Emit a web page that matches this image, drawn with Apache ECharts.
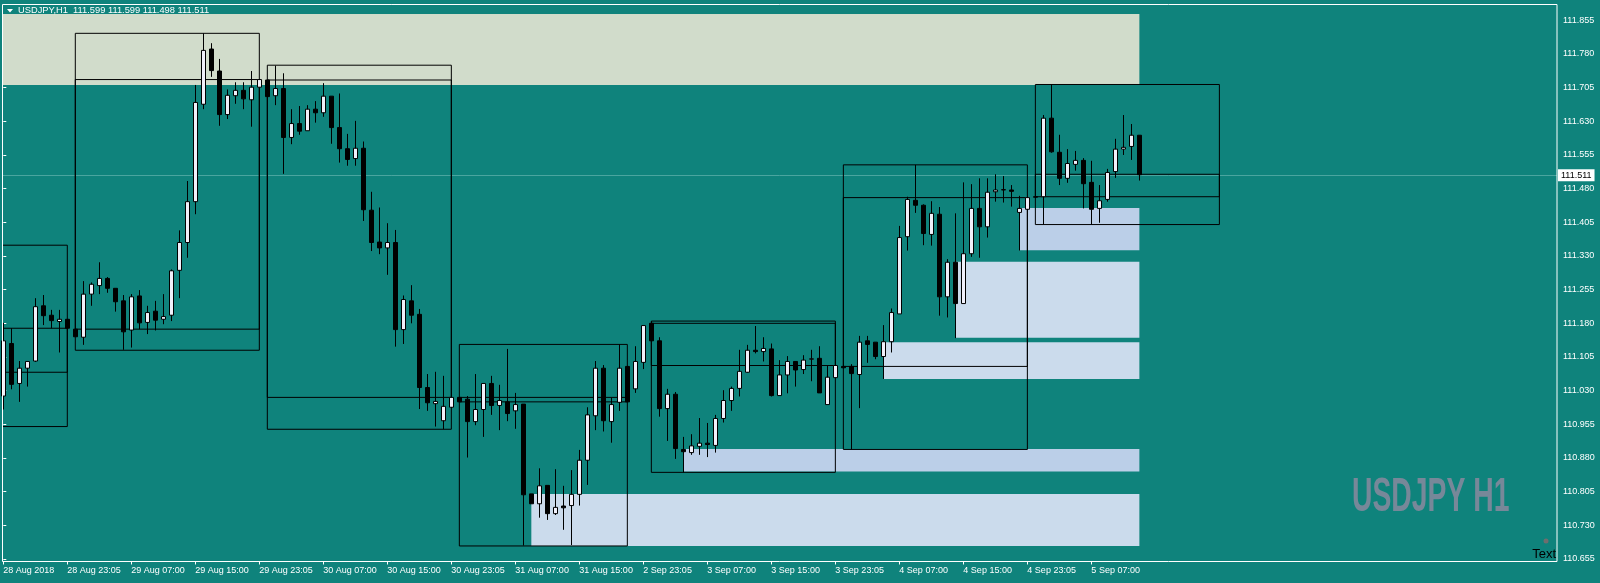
<!DOCTYPE html>
<html>
<head>
<meta charset="utf-8">
<title>USDJPY,H1</title>
<script src="https://cdn.jsdelivr.net/npm/echarts@6.0.0/dist/echarts.min.js"></script>
<style>
  html, body { margin: 0; padding: 0; background: #0f837c; }
  #main { width: 1600px; height: 583px; }
</style>
</head>
<body>
<div id="main"></div>
<script>
// time labels, one every 8 bars
var timeLabels = ['28 Aug 2018', '28 Aug 23:05', '29 Aug 07:00', '29 Aug 15:00', '29 Aug 23:05',
  '30 Aug 07:00', '30 Aug 15:00', '30 Aug 23:05', '31 Aug 07:00', '31 Aug 15:00', '2 Sep 23:05',
  '3 Sep 07:00', '3 Sep 15:00', '3 Sep 23:05', '4 Sep 07:00', '4 Sep 15:00', '4 Sep 23:05', '5 Sep 07:00']
var labelStep = 8

// price ticks on the right
var priceTicks = [110.655, 110.730, 110.805, 110.880, 110.955, 111.030, 111.105, 111.180, 111.255,
  111.330, 111.405, 111.480, 111.555, 111.630, 111.705, 111.780, 111.855]

// H1 bars (index = bar number)
var open = [
  111.018, 111.135, 111.046, 111.080, 111.096, 111.219, 111.198, 111.184, 111.189, 111.167,
  111.149, 111.245, 111.264, 111.280, 111.258, 111.230, 111.165, 111.241, 111.182, 111.207,
  111.189, 111.198, 111.298, 111.360, 111.451, 111.668, 111.791, 111.742, 111.645, 111.687,
  111.699, 111.678, 111.706, 111.722, 111.687, 111.703, 111.594, 111.625, 111.609, 111.657,
  111.649, 111.686, 111.616, 111.569, 111.547, 111.570, 111.432, 111.361, 111.348, 111.360,
  111.166, 111.230, 111.200, 111.037, 111.001, 110.963, 110.993, 111.015, 111.011, 110.961,
  110.988, 111.046, 110.997, 111.005, 110.985, 111.000, 110.800, 110.778, 110.819, 110.756,
  110.773, 110.774, 110.799, 110.875, 110.974, 111.080, 110.961, 111.004, 111.084, 111.034,
  111.093, 111.180, 111.141, 110.990, 111.022, 110.899, 110.892, 110.906, 110.913, 110.908,
  110.968, 111.008, 111.035, 111.071, 111.120, 111.117, 111.123, 111.019, 111.065, 111.095,
  111.077, 111.100, 111.102, 110.999, 111.059, 111.084, 111.084, 111.066, 111.141, 111.138,
  111.106, 111.139, 111.201, 111.373, 111.454, 111.443, 111.378, 111.423, 111.239, 111.316,
  111.224, 111.335, 111.436, 111.395, 111.473, 111.477, 111.477, 111.427, 111.434, 111.462,
  111.462, 111.637, 111.561, 111.503, 111.534, 111.543, 111.494, 111.436, 111.456, 111.518,
  111.568, 111.574, 111.599
]
var high = [
  111.181, 111.169, 111.096, 111.096, 111.236, 111.243, 111.210, 111.210, 111.189, 111.167,
  111.274, 111.271, 111.316, 111.283, 111.258, 111.243, 111.245, 111.254, 111.219, 111.230,
  111.245, 111.300, 111.387, 111.497, 111.711, 111.826, 111.804, 111.769, 111.701, 111.717,
  111.717, 111.742, 111.723, 111.722, 111.754, 111.737, 111.657, 111.664, 111.666, 111.675,
  111.715, 111.686, 111.692, 111.602, 111.631, 111.585, 111.473, 111.438, 111.403, 111.388,
  111.242, 111.265, 111.212, 111.067, 111.072, 111.063, 111.015, 111.015, 111.018, 111.067,
  111.046, 111.063, 111.043, 111.123, 111.025, 111.000, 110.800, 110.857, 110.819, 110.855,
  110.818, 110.853, 110.898, 110.993, 111.096, 111.087, 111.014, 111.133, 111.084, 111.129,
  111.175, 111.185, 111.149, 111.034, 111.027, 110.927, 110.933, 110.969, 110.958, 110.976,
  111.031, 111.039, 111.121, 111.132, 111.174, 111.149, 111.135, 111.098, 111.107, 111.095,
  111.109, 111.121, 111.129, 111.086, 111.086, 111.084, 111.089, 111.152, 111.152, 111.138,
  111.176, 111.213, 111.397, 111.462, 111.533, 111.445, 111.452, 111.439, 111.323, 111.425,
  111.494, 111.490, 111.503, 111.503, 111.512, 111.508, 111.488, 111.464, 111.462, 111.463,
  111.644, 111.712, 111.600, 111.568, 111.564, 111.548, 111.542, 111.488, 111.524, 111.591,
  111.644, 111.624, 111.599
]
var low = [
  110.988, 111.033, 111.005, 111.039, 111.094, 111.176, 111.169, 111.115, 111.169, 111.150,
  111.132, 111.219, 111.245, 111.248, 111.206, 111.121, 111.126, 111.167, 111.156, 111.164,
  111.178, 111.185, 111.236, 111.326, 111.423, 111.657, 111.729, 111.620, 111.635, 111.669,
  111.657, 111.618, 111.706, 111.685, 111.666, 111.513, 111.579, 111.600, 111.609, 111.627,
  111.640, 111.580, 111.538, 111.531, 111.531, 111.408, 111.341, 111.334, 111.288, 111.128,
  111.134, 111.180, 110.989, 110.985, 110.950, 110.944, 110.991, 111.005, 110.881, 110.953,
  110.927, 110.976, 110.942, 110.962, 110.945, 110.685, 110.778, 110.747, 110.742, 110.753,
  110.720, 110.686, 110.774, 110.820, 110.942, 110.939, 110.914, 110.985, 111.005, 111.025,
  111.078, 111.141, 110.972, 110.918, 110.878, 110.848, 110.887, 110.887, 110.882, 110.892,
  110.959, 110.985, 111.017, 111.070, 111.113, 111.095, 111.017, 111.019, 111.024, 111.039,
  111.067, 111.051, 111.025, 110.999, 111.059, 111.081, 110.899, 110.991, 111.092, 111.100,
  111.056, 111.115, 111.201, 111.342, 111.426, 111.354, 111.353, 111.197, 111.193, 111.147,
  111.224, 111.328, 111.326, 111.371, 111.451, 111.449, 111.440, 111.342, 111.432, 111.459,
  111.400, 111.560, 111.488, 111.493, 111.520, 111.436, 111.400, 111.404, 111.451, 111.504,
  111.555, 111.544, 111.498
]
var close = [
  111.141, 111.044, 111.080, 111.095, 111.217, 111.197, 111.186, 111.189, 111.169, 111.150,
  111.245, 111.267, 111.280, 111.258, 111.228, 111.161, 111.239, 111.181, 111.204, 111.187,
  111.195, 111.297, 111.360, 111.451, 111.672, 111.788, 111.743, 111.645, 111.688, 111.699,
  111.680, 111.706, 111.723, 111.685, 111.703, 111.594, 111.625, 111.608, 111.657, 111.649,
  111.686, 111.616, 111.569, 111.545, 111.570, 111.433, 111.360, 111.348, 111.360, 111.166,
  111.233, 111.198, 111.037, 111.003, 111.006, 110.995, 111.015, 111.005, 110.961, 110.988,
  111.046, 110.997, 111.008, 110.979, 110.999, 110.798, 110.778, 110.818, 110.756, 110.770,
  110.769, 110.799, 110.875, 110.976, 111.080, 110.963, 110.999, 111.080, 111.005, 111.095,
  111.175, 111.141, 110.990, 111.022, 110.901, 110.894, 110.907, 110.913, 110.910, 110.968,
  111.008, 111.035, 111.073, 111.120, 111.117, 111.124, 111.019, 111.065, 111.095, 111.076,
  111.098, 111.101, 111.025, 111.060, 111.086, 111.081, 111.068, 111.138, 111.133, 111.106,
  111.139, 111.204, 111.371, 111.456, 111.443, 111.380, 111.425, 111.239, 111.316, 111.224,
  111.335, 111.436, 111.395, 111.472, 111.477, 111.478, 111.474, 111.436, 111.460, 111.461,
  111.637, 111.562, 111.503, 111.536, 111.543, 111.491, 111.434, 111.453, 111.516, 111.568,
  111.572, 111.599, 111.511
]

// supply / demand zones (bar from, bar to, price top, price bottom)
var zoneFrom = [-1, 66, 85, 110, 119, 127]
var zoneTo = [142, 142, 142, 142, 142, 142]
var zoneTop = [111.869, 110.800, 110.900, 111.138, 111.317, 111.437]
var zoneBottom = [111.711, 110.684, 110.850, 111.056, 111.148, 111.343]
var zoneKind = ['resistance', 'support', 'supportStrong', 'support', 'support', 'supportStrong']

// daily range boxes: high/low and open/close of each day
var boxFrom = [-1, 9, 33, 57, 81, 105, 129]
var boxTo = [8, 32, 56, 78, 104, 128, 152]
var boxHigh = [111.354, 111.826, 111.755, 111.133, 111.185, 111.533, 111.712]
var boxLow = [110.950, 111.120, 110.944, 110.684, 110.848, 110.899, 111.400]
var boxOpen = [111.071, 111.167, 111.722, 111.015, 111.180, 111.084, 111.462]
var boxClose = [111.169, 111.723, 111.015, 111.005, 111.086, 111.460, 111.512]

var zoneColors = { resistance: '#d1dccb', support: '#cbdbec', supportStrong: '#bbcfe8' }
var FONT = '"Liberation Sans", Arial, sans-serif'

var candleData = open.map(function (o, i) {
  return [i, o, close[i], low[i], high[i]]
})

var zoneAreas = zoneFrom.map(function (f, i) {
  return [
    { xAxis: f, yAxis: zoneTop[i], itemStyle: { color: zoneColors[zoneKind[i]] } },
    { xAxis: zoneTo[i], yAxis: zoneBottom[i] }
  ]
})

var boxAreas = []
boxFrom.forEach(function (f, i) {
  boxAreas.push([{ xAxis: f, yAxis: boxHigh[i] }, { xAxis: boxTo[i], yAxis: boxLow[i] }])
  boxAreas.push([
    { xAxis: f, yAxis: Math.max(boxOpen[i], boxClose[i]) },
    { xAxis: boxTo[i], yAxis: Math.min(boxOpen[i], boxClose[i]) }
  ])
})

var labelIdx = timeLabels.map(function (t, i) { return i * labelStep })
var lastClose = close[close.length - 1]

var chart = echarts.init(document.getElementById('main'), null, { renderer: 'canvas' })

var option = {
  animation: false,
  backgroundColor: '#0f837c',
  grid: { left: 2.5, right: 43, top: 4.5, bottom: 21.5, show: false },
  xAxis: {
    type: 'value',
    min: -0.1,
    max: 194.2,
    axisLine: { show: false },
    splitLine: { show: false },
    axisTick: { show: true, length: 3, customValues: labelIdx, lineStyle: { color: '#fff' } },
    axisLabel: {
      customValues: labelIdx,
      formatter: function (v) { return timeLabels[Math.round(v / labelStep)] },
      color: '#fff',
      fontFamily: FONT,
      fontSize: 9,
      align: 'left',
      margin: 5
    }
  },
  yAxis: {
    type: 'value',
    position: 'right',
    min: 110.6494,
    max: 111.8902,
    axisLine: { show: false },
    splitLine: { show: false },
    axisTick: { show: true, length: 3, customValues: priceTicks, lineStyle: { color: '#fff' } },
    axisLabel: {
      customValues: priceTicks,
      formatter: function (v) { return v.toFixed(3) },
      color: '#fff',
      fontFamily: FONT,
      fontSize: 9,
      margin: 6
    }
  },
  series: [
    {
      name: 'zones',
      type: 'line',
      data: [],
      silent: true,
      markArea: { silent: true, z: 1, label: { show: false }, data: zoneAreas },
      markLine: {
        silent: true,
        z: 1.3,
        symbol: ['none', 'none'],
        lineStyle: { color: '#4aa59f', type: 'solid', width: 1 },
        label: {
          show: true,
          position: 'end',
          distance: 1,
          formatter: function () { return lastClose.toFixed(3) },
          color: '#000',
          backgroundColor: '#fff',
          fontFamily: FONT,
          fontSize: 9,
          padding: [2, 3, 1, 3]
        },
        data: [{ yAxis: lastClose }]
      }
    },
    {
      name: 'boxes',
      type: 'line',
      data: [],
      silent: true,
      markArea: {
        silent: true,
        z: 1.6,
        label: { show: false },
        itemStyle: { color: 'rgba(0,0,0,0)', borderColor: '#000', borderWidth: 1 },
        data: boxAreas
      }
    },
    {
      name: 'USDJPY,H1',
      type: 'candlestick',
      z: 2,
      barWidth: 4,
      data: candleData,
      itemStyle: {
        color: '#f0f0fa',
        color0: '#000',
        borderColor: '#000',
        borderColor0: '#000',
        borderColorDoji: '#000',
        borderWidth: 1
      }
    }
  ],
  graphic: [
    {
      type: 'rect',
      z: 20,
      silent: true,
      shape: { x: 2.5, y: 4.5, width: 1554.5, height: 557 },
      style: { fill: null, stroke: '#fff', lineWidth: 1 }
    },
    {
      type: 'polygon',
      z: 20,
      shape: { points: [[7, 9], [13, 9], [10, 12.5]] },
      style: { fill: '#fff' }
    },
    {
      type: 'text',
      z: 20,
      x: 18,
      y: 10.5,
      style: {
        text: 'USDJPY,H1  111.599 111.599 111.498 111.511',
        fill: '#fff',
        font: '9.3px ' + FONT,
        align: 'left',
        verticalAlign: 'middle'
      }
    },
    {
      type: 'text',
      z: 20,
      x: 1352,
      y: 497.5,
      scaleX: 0.59,
      style: {
        text: 'USDJPY H1',
        fill: '#778899',
        font: 'bold 48px ' + FONT,
        align: 'left',
        verticalAlign: 'middle'
      }
    },
    {
      type: 'circle',
      z: 20,
      shape: { cx: 1546, cy: 541, r: 2.5 },
      style: { fill: '#6e6e6e' }
    },
    {
      type: 'text',
      z: 20,
      x: 1556,
      y: 554.5,
      style: {
        text: 'Text',
        fill: '#000',
        font: '13px ' + FONT,
        align: 'right',
        verticalAlign: 'middle'
      }
    }
  ]
}

chart.setOption(option)
window.addEventListener('resize', function () {
  chart.resize()
})
</script>
</body>
</html>
